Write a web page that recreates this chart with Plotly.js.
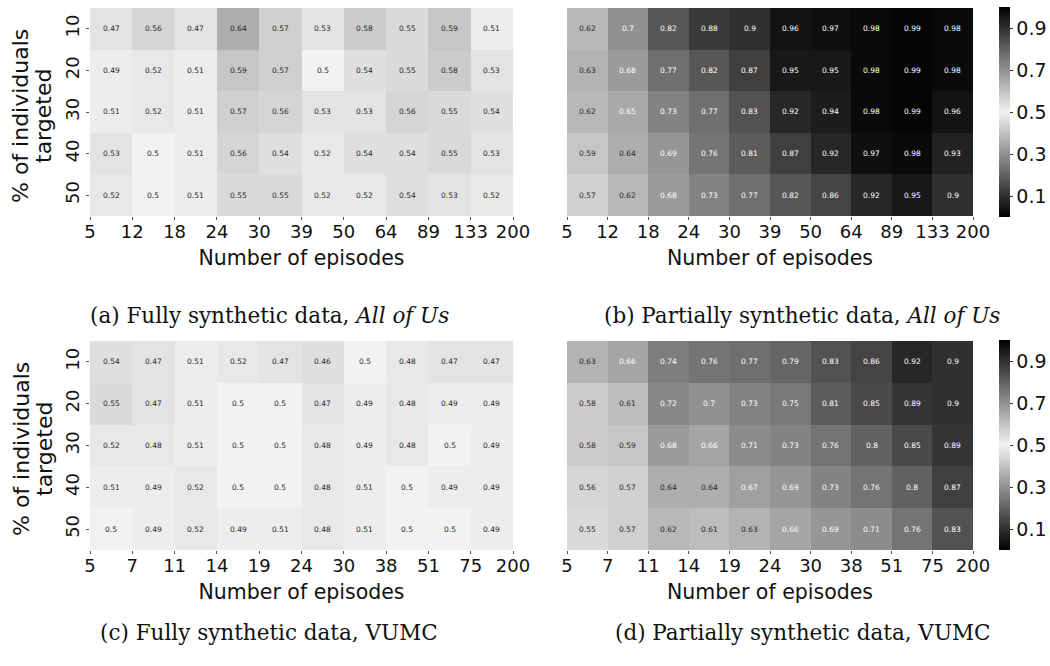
<!DOCTYPE html>
<html>
<head>
<meta charset="utf-8">
<script src="https://cdn.plot.ly/plotly-3.0.1.min.js"></script>
<style>
  body { margin: 0; background: #fff; }
  #plot { width: 1050px; height: 666px; }
</style>
</head>
<body>
<div id="plot"></div>
<script>
// rows: % of individuals targeted, top to bottom
var rowLabels = ['10', '20', '30', '40', '50'];
var episodesAoU = ['5', '12', '18', '24', '30', '39', '50', '64', '89', '133', '200'];
var episodesVUMC = ['5', '7', '11', '14', '19', '24', '30', '38', '51', '75', '200'];

var fullyAoU = [
    [0.47, 0.56, 0.47, 0.64, 0.57, 0.53, 0.58, 0.55, 0.59, 0.51],
    [0.49, 0.52, 0.51, 0.59, 0.57, 0.50, 0.54, 0.55, 0.58, 0.53],
    [0.51, 0.52, 0.51, 0.57, 0.56, 0.53, 0.53, 0.56, 0.55, 0.54],
    [0.53, 0.50, 0.51, 0.56, 0.54, 0.52, 0.54, 0.54, 0.55, 0.53],
    [0.52, 0.50, 0.51, 0.55, 0.55, 0.52, 0.52, 0.54, 0.53, 0.52]
];
var partialAoU = [
    [0.62, 0.70, 0.82, 0.88, 0.90, 0.96, 0.97, 0.98, 0.99, 0.98],
    [0.63, 0.68, 0.77, 0.82, 0.87, 0.95, 0.95, 0.98, 0.99, 0.98],
    [0.62, 0.65, 0.73, 0.77, 0.83, 0.92, 0.94, 0.98, 0.99, 0.96],
    [0.59, 0.64, 0.69, 0.76, 0.81, 0.87, 0.92, 0.97, 0.98, 0.93],
    [0.57, 0.62, 0.68, 0.73, 0.77, 0.82, 0.86, 0.92, 0.95, 0.90]
];
var fullyVUMC = [
    [0.54, 0.47, 0.51, 0.52, 0.47, 0.46, 0.50, 0.48, 0.47, 0.47],
    [0.55, 0.47, 0.51, 0.50, 0.50, 0.47, 0.49, 0.48, 0.49, 0.49],
    [0.52, 0.48, 0.51, 0.50, 0.50, 0.48, 0.49, 0.48, 0.50, 0.49],
    [0.51, 0.49, 0.52, 0.50, 0.50, 0.48, 0.51, 0.50, 0.49, 0.49],
    [0.50, 0.49, 0.52, 0.49, 0.51, 0.48, 0.51, 0.50, 0.50, 0.49]
];
var partialVUMC = [
    [0.63, 0.66, 0.74, 0.76, 0.77, 0.79, 0.83, 0.86, 0.92, 0.90],
    [0.58, 0.61, 0.72, 0.70, 0.73, 0.75, 0.81, 0.85, 0.89, 0.90],
    [0.58, 0.59, 0.68, 0.66, 0.71, 0.73, 0.76, 0.80, 0.85, 0.89],
    [0.56, 0.57, 0.64, 0.64, 0.67, 0.69, 0.73, 0.76, 0.80, 0.87],
    [0.55, 0.57, 0.62, 0.61, 0.63, 0.66, 0.69, 0.71, 0.76, 0.83]
];

var captions = [
    '(a) Fully synthetic data, <i>All of Us</i>',
    '(b) Partially synthetic data, <i>All of Us</i>',
    '(c) Fully synthetic data, VUMC',
    '(d) Partially synthetic data, VUMC'
];

var grayScale = [[0, '#000000'], [0.5, '#f2f2f2'], [1, '#000000']];
var colX = [0.5, 1.5, 2.5, 3.5, 4.5, 5.5, 6.5, 7.5, 8.5, 9.5];
var rowY = [0.5, 1.5, 2.5, 3.5, 4.5];
var sans = 'DejaVu Sans, sans-serif';

var panels = [
    {z: fullyAoU, ticks: episodesAoU, ax: '', scale: false},
    {z: partialAoU, ticks: episodesAoU, ax: '2', scale: true, cbY: 1 - 7 / 666},
    {z: fullyVUMC, ticks: episodesVUMC, ax: '3', scale: false},
    {z: partialVUMC, ticks: episodesVUMC, ax: '4', scale: true, cbY: 1 - 340 / 666}
];

var data = [];
var annotations = [];

panels.forEach(function (p) {
    var trace = {
        type: 'heatmap',
        z: p.z,
        x: colX,
        y: rowY,
        xaxis: 'x' + p.ax,
        yaxis: 'y' + p.ax,
        colorscale: grayScale,
        zmin: 0,
        zmax: 1,
        showscale: p.scale,
        hoverinfo: 'skip'
    };
    if (p.scale) {
        trace.colorbar = {
            x: 999 / 1050, xanchor: 'left', xpad: 0,
            y: p.cbY, yanchor: 'top', ypad: 0,
            len: 210 / 666, lenmode: 'fraction',
            thickness: 11, outlinewidth: 0,
            tickvals: [0.1, 0.3, 0.5, 0.7, 0.9],
            ticks: 'outside', ticklen: 3, tickcolor: '#333',
            tickfont: {family: sans, size: 19, color: '#111'}
        };
    }
    data.push(trace);

    // cell labels, light text on dark cells
    p.z.forEach(function (row, i) {
        row.forEach(function (v, j) {
            annotations.push({
                xref: 'x' + p.ax, yref: 'y' + p.ax,
                x: colX[j], y: rowY[i],
                text: String(v),
                showarrow: false,
                font: {family: sans, size: 7.5, color: (v >= 0.645 || v <= 0.355) ? '#ffffff' : '#262626'}
            });
        });
    });
});

captions.forEach(function (c, k) {
    annotations.push({
        xref: 'paper', yref: 'paper',
        x: (k % 2 === 0 ? 269 : 802) / 1050,
        y: 1 - (k < 2 ? 315 : 632) / 666,
        text: c,
        showarrow: false,
        xanchor: 'center', yanchor: 'middle',
        font: {family: 'DejaVu Serif, serif', size: 21.5, color: '#111'}
    });
});

// y axis title, two rotated lines for the left panels
[112, 445].forEach(function (cy) {
    [['% of individuals', 21], ['targeted', 44]].forEach(function (line) {
        annotations.push({
            xref: 'paper', yref: 'paper',
            x: line[1] / 1050, y: 1 - (cy + 4) / 666,
            text: line[0],
            textangle: -90,
            showarrow: false,
            xanchor: 'center', yanchor: 'middle',
            font: {family: sans, size: 22, color: '#111'}
        });
    });
});

function xAxis(dom, anchor, labels) {
    return {
        domain: dom, anchor: anchor,
        range: [0, 10],
        tickvals: [0, 1, 2, 3, 4, 5, 6, 7, 8, 9, 10],
        ticktext: labels,
        tickangle: 0,
        ticks: 'outside', ticklen: 3, tickcolor: '#555',
        ticklabelstandoff: -4,
        tickfont: {family: sans, size: 18, color: '#111'},
        showgrid: false, zeroline: false, showline: false,
        title: {text: 'Number of episodes', font: {family: sans, size: 20.5, color: '#111'}, standoff: 10}
    };
}

function yAxis(dom, anchor, showLabels) {
    return {
        domain: dom, anchor: anchor,
        range: [5, 0],
        tickvals: rowY,
        ticktext: rowLabels,
        tickangle: -90,
        showticklabels: showLabels,
        ticks: showLabels ? 'outside' : '',
        ticklen: 3, tickcolor: '#555',
        tickfont: {family: sans, size: 18, color: '#111'},
        showgrid: false, zeroline: false, showline: false
    };
}

var leftDom = [90 / 1050, 513 / 1050];
var rightDom = [567 / 1050, 973 / 1050];
var topDom = [1 - 216 / 666, 1 - 8 / 666];
var botDom = [1 - 550 / 666, 1 - 341 / 666];

var layout = {
    width: 1050,
    height: 666,
    margin: {l: 0, r: 0, t: 0, b: 0},
    paper_bgcolor: '#ffffff',
    plot_bgcolor: '#ffffff',
    showlegend: false,
    xaxis: xAxis(leftDom, 'y', episodesAoU),
    yaxis: yAxis(topDom, 'x', true),
    xaxis2: xAxis(rightDom, 'y2', episodesAoU),
    yaxis2: yAxis(topDom, 'x2', false),
    xaxis3: xAxis(leftDom, 'y3', episodesVUMC),
    yaxis3: yAxis(botDom, 'x3', true),
    xaxis4: xAxis(rightDom, 'y4', episodesVUMC),
    yaxis4: yAxis(botDom, 'x4', false),
    annotations: annotations
};

Plotly.newPlot('plot', data, layout, {displayModeBar: false, staticPlot: true});
</script>
</body>
</html>
